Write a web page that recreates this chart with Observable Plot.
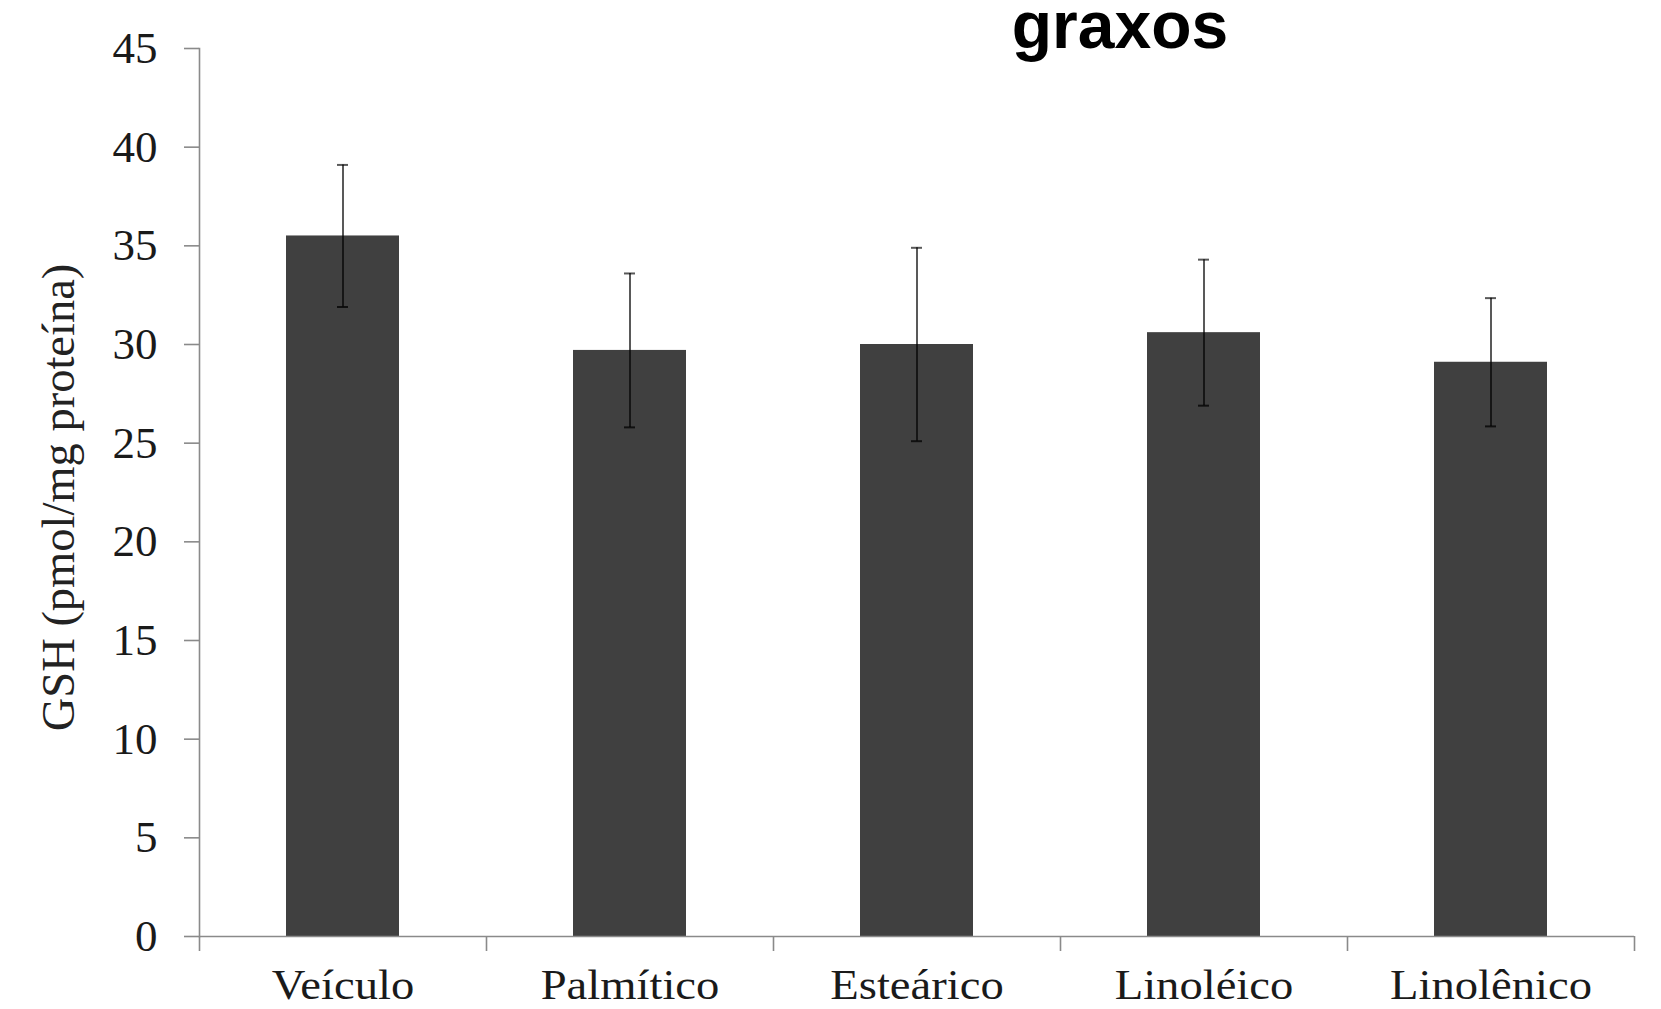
<!DOCTYPE html>
<html><head><meta charset="utf-8">
<script src="https://cdn.jsdelivr.net/npm/d3@7"></script>
<script src="https://cdn.jsdelivr.net/npm/@observablehq/plot@0.6"></script>
<style>
html,body{margin:0;padding:0;background:#fff;}
#wrap{position:relative;width:1661px;height:1009px;overflow:hidden;}
#title{position:absolute;left:620px;width:1000px;top:0px;height:64px;text-align:center;font-family:"Liberation Sans",Arial,sans-serif;font-weight:bold;font-size:66px;line-height:50px;color:#000;}
#chart{position:absolute;left:0;top:0;}
</style></head><body>
<div id="wrap"><div id="chart"></div><div id="title"></div></div>
<script>
const categories = ["Veículo", "Palmítico", "Esteárico", "Linoléico", "Linolênico"];
const means = [35.5, 29.7, 30.0, 30.6, 29.1];
const errors = [3.6, 3.9, 4.9, 3.7, 3.25];
const yTicks = [0, 5, 10, 15, 20, 25, 30, 35, 40, 45];
const yLabel = "GSH (pmol/mg proteína)";
const titleText = "graxos";

document.getElementById("title").textContent = titleText;

const data = categories.map((c, i) => ({cat: c, mean: means[i], lo: means[i] - errors[i], hi: means[i] + errors[i]}));

const W = 1661, H = 1009, mL = 199, mR = 27, mT = 48, mB = 73;
const half = (W - mL - mR) / categories.length / 2;
const axisColor = "#8a8a8a";
const serif = "Liberation Serif, Times New Roman, serif";

const chart = Plot.plot({
  width: W, height: H,
  marginLeft: mL, marginRight: mR, marginTop: mT, marginBottom: mB,
  style: {background: "#fff", color: "#1a1a1a", fontFamily: serif},
  x: {domain: categories, paddingInner: 0.606, paddingOuter: 0.303, label: null},
  y: {domain: [0, 45], label: null},
  marks: [
    Plot.barY(data, {x: "cat", y: "mean", fill: "#404040"}),
    Plot.ruleX(data, {x: "cat", y1: "lo", y2: "hi", stroke: "#000", strokeOpacity: 0.65, strokeWidth: 2}),
    Plot.tickY(data, {x: "cat", y: "hi", stroke: "#000", strokeOpacity: 0.65, strokeWidth: 2, insetLeft: 51, insetRight: 51}),
    Plot.tickY(data, {x: "cat", y: "lo", stroke: "#000", strokeOpacity: 0.75, strokeWidth: 2, insetLeft: 51, insetRight: 51}),
    Plot.ruleY([0], {stroke: axisColor, strokeWidth: 1.6}),
    Plot.frame({anchor: "left", stroke: axisColor, strokeWidth: 1.6}),
    Plot.ruleX(categories, {x: d => d, y1: 0, y2: 0, insetBottom: -15, dx: -half, stroke: axisColor, strokeWidth: 1.6}),
    Plot.ruleX(categories.slice(-1), {x: d => d, y1: 0, y2: 0, insetBottom: -15, dx: half, stroke: axisColor, strokeWidth: 1.6}),
    Plot.axisY({ticks: yTicks, tickSize: 15, tickPadding: 27, fontSize: 45, stroke: axisColor, strokeWidth: 1.6, label: null, fill: "#1a1a1a"}),
    Plot.axisX({tickSize: 0, tickPadding: 33, fontSize: 42, label: null, fill: "#1a1a1a"}),
    Plot.text([yLabel], {frameAnchor: "left", dx: -140, dy: 5, rotate: -90, fontSize: 46.5, textAnchor: "middle", lineAnchor: "middle", fill: "#222", fontFamily: serif})
  ]
});
document.getElementById("chart").appendChild(chart);

// widen the category labels slightly to match the reference's letter proportions
d3.select(chart).selectAll('g[aria-label="x-axis tick label"] text').each(function () {
  const t = this.getAttribute("transform") || "";
  this.setAttribute("transform", t + " scale(1.11,1)");
});
</script>
</body></html>
